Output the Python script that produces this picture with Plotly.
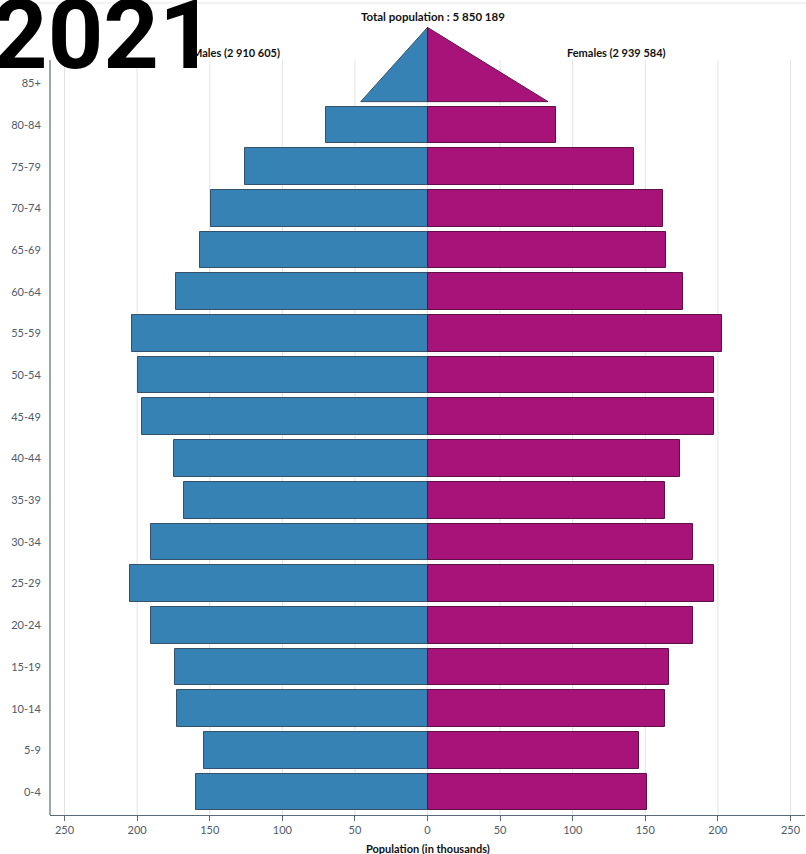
import plotly.graph_objects as go

# age groups, bottom to top
age_groups = ["0-4", "5-9", "10-14", "15-19", "20-24", "25-29", "30-34", "35-39",
              "40-44", "45-49", "50-54", "55-59", "60-64", "65-69", "70-74",
              "75-79", "80-84", "85+"]

# population in thousands
males = [159.6, 153.8, 172.4, 174.2, 190.5, 205.2, 190.5, 167.4, 174.9,
         196.3, 199.7, 203.4, 172.9, 156.8, 149.4, 125.8, 69.6, 46.0]
females = [151.0, 146.0, 163.5, 166.2, 182.7, 197.4, 183.2, 163.5, 173.6,
           197.4, 197.4, 202.9, 175.8, 164.1, 162.5, 142.1, 88.6, 83.0]

x_ticks = [-250, -200, -150, -100, -50, 0, 50, 100, 150, 200, 250]

MALE_COLOR = "#3782b5"
MALE_EDGE = "#34516b"
FEMALE_COLOR = "#a8137a"
FEMALE_EDGE = "#5e1046"
FONT = "Source Sans Pro, Lato, sans-serif"
AXIS_COLOR = "#5b6b7b"
TICK_FONT_COLOR = "#4d5b6b"

BAR_WIDTH = 0.88
TRI_TOP = 18.34  # apex of the 85+ triangle (in category units)

idx = list(range(len(age_groups)))
last = idx[-1]

fig = go.Figure()

# regular bars (all groups but the open-ended top one)
fig.add_trace(go.Bar(
    y=idx[:-1], x=[-v for v in males[:-1]], orientation="h", width=BAR_WIDTH,
    marker=dict(color=MALE_COLOR, line=dict(color=MALE_EDGE, width=1)),
    name="Males", showlegend=False, hoverinfo="skip",
))
fig.add_trace(go.Bar(
    y=idx[:-1], x=females[:-1], orientation="h", width=BAR_WIDTH,
    marker=dict(color=FEMALE_COLOR, line=dict(color=FEMALE_EDGE, width=1)),
    name="Females", showlegend=False, hoverinfo="skip",
))

# 85+ drawn as a triangle
tri_base = last - BAR_WIDTH / 2
fig.add_trace(go.Scatter(
    x=[0, -males[-1], 0, 0], y=[TRI_TOP, tri_base, tri_base, TRI_TOP],
    mode="lines", fill="toself", fillcolor=MALE_COLOR,
    line=dict(color=MALE_EDGE, width=1), showlegend=False, hoverinfo="skip",
))
fig.add_trace(go.Scatter(
    x=[0, females[-1], 0, 0], y=[TRI_TOP, tri_base, tri_base, TRI_TOP],
    mode="lines", fill="toself", fillcolor=FEMALE_COLOR,
    line=dict(color=FEMALE_EDGE, width=1), showlegend=False, hoverinfo="skip",
))

# plot area: y 27..815 px, x 50..805 px
PH = 788.0
PW = 755.0


def py(px):
    return (815 - px) / PH


grid_top = py(60)

shapes = []
for t in x_ticks:
    shapes.append(dict(type="line", xref="x", yref="paper", x0=t, x1=t, y0=0, y1=grid_top,
                       line=dict(color="#e2e2e2", width=1), layer="below"))
# y axis line
shapes.append(dict(type="line", xref="paper", yref="paper", x0=0, x1=0, y0=0, y1=grid_top,
                   line=dict(color="#3d4f63", width=1)))
# thin line across the top of the page
shapes.append(dict(type="line", xref="paper", yref="paper", x0=-0.07, x1=1.01,
                   y0=py(3), y1=py(3), line=dict(color="#e6e6e6", width=1)))

annotations = [
    dict(text="<b>Total population : 5 850 189</b>", xref="x", yref="paper", x=4,
         y=py(16), yanchor="middle", showarrow=False, font=dict(size=11.5, color="#111111")),
    dict(text="<b>Males (2 910 605)</b>", xref="x", yref="paper", x=-100, xanchor="right",
         y=py(52), yanchor="middle", showarrow=False, font=dict(size=11, color="#111111")),
    dict(text="<b>Females (2 939 584)</b>", xref="x", yref="paper", x=130,
         y=py(52), yanchor="middle", showarrow=False, font=dict(size=11, color="#111111")),
    dict(text="<b>Population (in thousands)</b>", xref="x", yref="paper", x=0,
         y=py(848), yanchor="middle", showarrow=False, font=dict(size=11, color="#111111")),
    dict(text="<b>2021</b>", xref="paper", yref="paper", x=(-10 - 50) / PW, xanchor="left",
         y=py(35), yanchor="middle", showarrow=False,
         font=dict(size=97, color="#000000", family="Roboto, sans-serif")),
]

fig.update_layout(
    width=806, height=854,
    margin=dict(l=50, r=1, t=27, b=39),
    plot_bgcolor="white", paper_bgcolor="white",
    barmode="overlay", bargap=0,
    font=dict(family=FONT, size=11, color=TICK_FONT_COLOR),
    shapes=shapes, annotations=annotations,
)
fig.update_xaxes(
    range=[-260, 260], tickvals=x_ticks, ticktext=[str(abs(t)) for t in x_ticks],
    showgrid=False, zeroline=False, showline=True, linecolor=AXIS_COLOR, linewidth=1,
    ticks="outside", ticklen=5, tickcolor=AXIS_COLOR,
    tickfont=dict(size=11, color=TICK_FONT_COLOR), automargin=False,
)
fig.update_yaxes(
    range=[-0.55, 18.35], tickvals=idx, ticktext=age_groups,
    showgrid=False, zeroline=False, showline=False,
    ticks="outside", ticklen=6, tickcolor="rgba(0,0,0,0)",
    tickfont=dict(size=11, color=TICK_FONT_COLOR), automargin=False,
)

# drop the browser's default page margin so the figure sits at the top-left corner
fig.write_html("out.html", config={"displayModeBar": False},
               post_script="document.body.style.margin = '0';")
